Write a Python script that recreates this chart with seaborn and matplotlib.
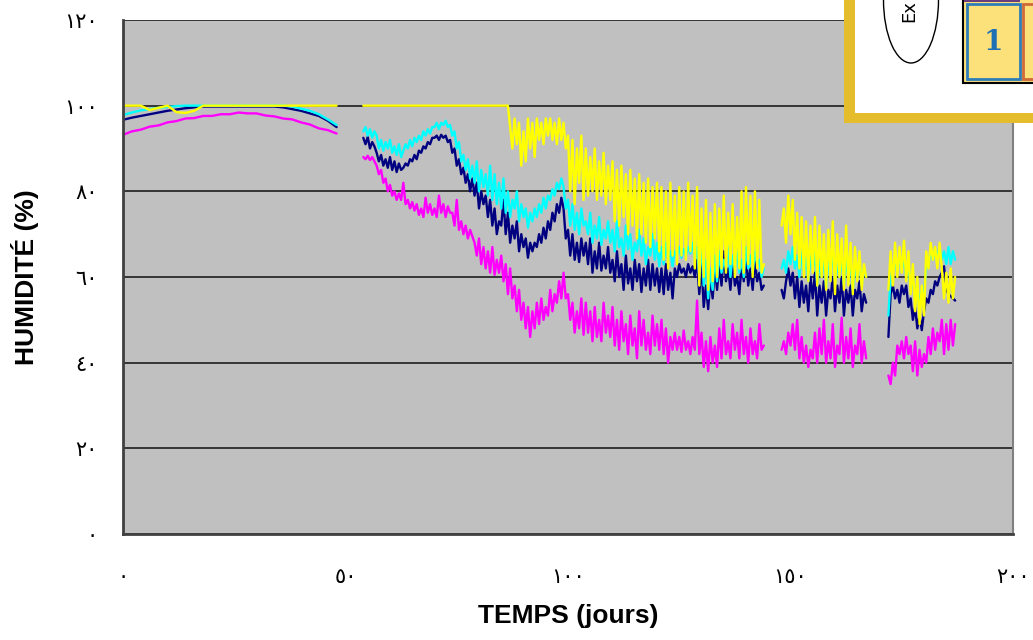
import numpy as np
import pandas as pd
import seaborn as sns
import matplotlib.pyplot as plt
from matplotlib.patches import Rectangle, Ellipse

# time grids of the four recording periods (days)
DAYS_SEG1 = np.arange(0, 48.5, 2)
DAYS_SEG2 = np.arange(54, 144.25, 0.5)
DAYS_SEG3 = np.arange(148, 167.25, 0.5)
DAYS_SEG4 = np.arange(172, 187.25, 0.5)

# humidity readings (%)
YELLOW_SEG1 = [100, 100, 100, 99, 99.5, 100, 98.5, 98.3, 98.8, 100, 100, 100, 100,
               100, 100, 100, 100, 100, 100, 100, 100, 100, 100, 100, 100]
YELLOW_SEG2 = [100, 100, 100, 100, 100, 100, 100, 100, 100, 100,
               100, 100, 100, 100, 100, 100, 100, 100, 100, 100,
               100, 100, 100, 100, 100, 100, 100, 100, 100, 100,
               100, 100, 100, 100, 100, 100, 100, 100, 100, 100,
               100, 100, 100, 100, 100, 100, 100, 100, 100, 100,
               100, 100, 100, 100, 100, 100, 100, 100, 100, 100,
               100, 100, 100, 100, 100, 100,
               95, 90, 97, 91, 96, 86, 94, 87, 97, 90, 96, 88, 97, 92, 96, 91,
               97, 93, 97, 92, 96, 91, 97, 92, 96, 90,
               93, 80, 92, 77, 90, 82, 93, 78, 90, 79,
               88, 80, 90, 78, 87, 79, 89, 77, 86, 78,
               87, 73, 85, 72, 86, 74, 84, 70, 85, 72, 83, 69, 84, 70, 82, 68,
               83, 67, 81, 69, 82, 66,
               81, 64, 80, 62, 82, 65, 79, 63, 81, 65, 80, 64, 82, 66, 79, 62,
               81, 58, 76, 60, 78, 57, 75, 59, 77, 60, 76, 62, 79, 61, 75, 63,
               77, 60, 74, 62, 80, 61, 81, 63, 79, 60, 80, 62, 78, 61, 63]
YELLOW_SEG3 = [72, 76, 68, 79, 70, 78, 64, 75, 62, 74, 60, 73, 59, 72, 61, 74,
               58, 72, 60, 70, 57, 71, 59, 73, 56, 70, 60, 69, 57, 72, 58, 68,
               56, 67, 59, 66, 57, 63, 60]
YELLOW_SEG4 = [57, 66, 58, 68, 60, 67, 61, 68.5, 59, 66, 56, 63, 52, 60, 49, 58,
               51, 66, 62, 68, 64, 67, 62, 68, 62, 55, 61, 54, 62, 55, 60]

CYAN_SEG1 = [97.8, 98.4, 98.9, 99.2, 99.5, 99.7, 99.9, 100, 100, 100, 100, 100, 100,
             100, 100, 100, 100, 100, 100, 99.8, 99.3, 98.8, 98, 96.8, 95.5]
CYAN_SEG2 = [94, 95, 93, 94.5, 92.5, 94,
             93, 90, 92, 89.5, 91.5, 90, 92, 89, 90.5, 88.5, 91, 88,
             89.5, 91, 90, 92, 90.5, 92.5, 91.5, 93, 92, 94, 93, 94.5, 93.5, 95,
             95, 96, 94.5, 96, 95.5, 96.5, 95, 95.5,
             93, 94, 90, 91.5, 87, 88.5, 85, 87.5, 83, 86,
             82, 87, 80, 85, 81, 84, 79, 86, 78, 84, 77, 82,
             76, 83, 75, 80, 74, 78, 76, 80, 73, 77, 74, 76, 71.5, 75,
             73, 76, 74, 77, 75, 78.5, 76, 79, 78, 80.5, 79, 82, 80.5, 83,
             81, 76, 78, 72, 77, 71, 75, 70, 76, 72,
             73, 70, 75, 68, 72, 69, 74, 67.5, 71, 69, 73, 68,
             71, 66, 73, 67, 69, 65, 72, 66.5, 70, 64, 68, 66, 71, 65, 69, 63,
             67, 65, 70, 64, 68, 62.5,
             67, 63, 68, 64, 66, 62.5,
             66, 65, 67, 64.5, 66.5, 65, 67, 65.5, 68, 64,
             67, 60, 68, 58, 64, 55, 62, 57, 65, 59,
             66, 61, 64, 62, 67, 60, 65, 62, 66, 61, 64, 60, 67, 62, 65, 61,
             66, 63, 64, 60, 62]
CYAN_SEG3 = [62, 64, 61, 66, 63, 67, 62, 65, 60, 66, 61, 64.5, 59, 65, 62, 66,
             58, 64, 60, 65, 57.5, 64, 61, 66, 59, 63, 60, 65, 58, 64, 60, 63,
             57, 62, 60, 64, 58, 62, 60]
CYAN_SEG4 = [51, 60, 62, 64, 61, 65, 62, 64, 60, 63, 57, 60, 55, 58, 53, 57,
             56, 62, 63, 66, 64, 66, 65, 67, 64, 66, 63, 67, 63, 66, 64]

NAVY_SEG1 = [96.7, 97.2, 97.6, 98, 98.4, 98.8, 99.1, 99.4, 99.6, 99.8, 99.8, 99.8, 99.8,
             99.8, 99.8, 99.8, 99.8, 99.8, 99.6, 99.2, 98.8, 98.2, 97.6, 96.5, 95]
NAVY_SEG2 = [92.5, 91, 92.7, 90, 91.5, 90.5,
             89, 87, 88.5, 86, 87.5, 85.5, 88, 85, 87, 84.5, 86.5, 85,
             85.5, 86.5, 86, 87.5, 87, 88.5, 87.5, 89.5, 89, 90.5, 90, 91.5, 91, 92.5,
             92.5, 93, 92, 93.2, 92.5, 93, 91.5, 92,
             89, 90, 86, 87.5, 84, 85.5, 82, 84, 80, 83,
             79, 82, 76, 80, 77, 79, 74, 78, 72, 76, 70, 73,
             72, 78, 70, 75, 68, 72, 69, 73, 66, 70, 67, 69, 64.5, 68,
             66, 68, 67, 70, 68, 71.5, 69, 73, 71, 75, 73, 77, 75, 78.5,
             76, 69, 71, 65, 70, 64, 68, 63.5, 69, 65,
             68, 63, 69, 61, 66, 62, 68, 61.5, 65, 62, 67, 61,
             64, 59, 66, 60, 63, 57, 65, 58.5, 62, 57, 64, 59, 63, 56.5, 62, 58,
             64, 57, 63, 58, 62, 56.5,
             62, 56, 63, 57, 61, 55,
             62, 60, 63, 61, 62, 60, 63, 61, 62.5, 60,
             64, 56, 63, 53, 58, 52.5, 60, 55, 62, 57,
             63, 58, 66, 59, 62, 57, 64, 58, 60, 56, 63, 59, 65, 58, 62, 57,
             64, 59, 61, 57, 58]
NAVY_SEG3 = [57, 55, 59, 62, 58, 61, 55, 60, 53, 59, 54, 58, 52, 60, 55, 61,
             51, 58, 54, 59, 51, 57, 55, 60, 52, 58, 54, 60, 51, 57, 54, 58,
             51, 57, 55, 59, 52, 56, 54]
NAVY_SEG4 = [46, 56, 58, 55, 57, 54, 58, 56, 58, 53, 55, 50, 53, 48, 51, 47.6,
             52, 55, 54, 57, 56, 59, 58, 60, 61, 62.5, 57, 56, 55.5, 55, 54.5]

MAGENTA_SEG1 = [93.2, 94, 94.4, 95.1, 95.4, 96.1, 96.4, 97, 97.1, 97.6, 97.6, 98, 98,
                98.4, 98.2, 98.2, 97.7, 97.5, 97, 96.8, 96.1, 95.6, 94.7, 94.3, 93.5]
MAGENTA_SEG2 = [88, 87.5, 88.3, 87.3, 88, 87,
                86, 84, 85, 82, 83, 80, 81.5, 79, 80, 78, 79.5, 78,
                82, 77, 78, 76, 77.5, 75.5, 77, 74.5, 76, 74, 78.5, 75, 77, 74.5,
                76, 74, 79, 75, 77, 74, 76.5, 75,
                75, 72, 78, 71, 73, 70, 72, 69, 71, 69.5,
                68, 65, 69, 63, 67, 62, 66, 61, 67, 60.5, 64, 61,
                65, 59, 63, 56, 62, 55, 58, 52, 57, 50, 54, 48, 53, 46,
                52, 48, 54, 49, 55, 50, 53, 51, 57, 52, 56, 54, 59, 55,
                61, 55, 56, 50, 54, 47, 52, 48, 55, 46.5,
                54, 47, 52, 45, 53, 46, 50, 45, 54, 47, 51, 46,
                53, 44, 50, 43, 52, 45, 49, 42, 51, 44, 48, 41, 52, 44, 50, 43,
                47, 42, 51, 44, 49, 43,
                50, 42, 48, 40, 46, 43,
                47, 43, 46, 42.5, 47.5, 43, 45, 42, 46, 43,
                54.5, 42, 47, 39, 45, 38, 46, 40, 44, 39,
                48, 41, 50, 42, 45, 41, 49, 43, 47, 41, 50, 42, 46, 40, 48, 42,
                45, 41, 49, 43, 44]
MAGENTA_SEG3 = [43, 45, 42, 47, 44, 49, 43, 50, 41, 46, 40, 44, 39, 43, 41, 47,
                40, 48, 42, 50, 40, 45, 41, 49, 39, 44, 42, 50.5, 40, 46, 41, 48,
                39, 44, 42, 49, 40, 45, 41]
MAGENTA_SEG4 = [37, 35, 40, 37, 44, 42, 45, 41, 46, 42, 44, 38, 45, 37, 43, 39,
                42, 40, 46, 42, 48, 43, 47, 45, 50, 42, 49, 43, 50, 44, 49]

SERIES = {
    'navy': [NAVY_SEG1, NAVY_SEG2, NAVY_SEG3, NAVY_SEG4],
    'cyan': [CYAN_SEG1, CYAN_SEG2, CYAN_SEG3, CYAN_SEG4],
    'yellow': [YELLOW_SEG1, YELLOW_SEG2, YELLOW_SEG3, YELLOW_SEG4],
    'magenta': [MAGENTA_SEG1, MAGENTA_SEG2, MAGENTA_SEG3, MAGENTA_SEG4],
}
PALETTE = {'navy': '#000080', 'cyan': '#00FFFF', 'yellow': '#FFFF00', 'magenta': '#FF00FF'}

X_TICKS = [0, 50, 100, 150, 200]
X_TICK_LABELS = ['٠', '٥٠', '١٠٠', '١٥٠', '٢٠٠']
Y_TICKS = [0, 20, 40, 60, 80, 100, 120]
Y_TICK_LABELS = ['٠', '٢٠', '٤٠', '٦٠', '٨٠', '١٠٠', '١٢٠']

# long-form table, one row per reading
seg_days = [DAYS_SEG1, DAYS_SEG2, DAYS_SEG3, DAYS_SEG4]
frames = []
for name, segs in SERIES.items():
    for k, (days, vals) in enumerate(zip(seg_days, segs)):
        frames.append(pd.DataFrame({'day': days, 'value': vals,
                                    'series': name, 'segment': k}))
df = pd.concat(frames, ignore_index=True)

sns.set_style('white')
plt.rcParams['font.family'] = ['Liberation Sans', 'DejaVu Sans']
plt.rcParams['text.color'] = 'black'
plt.rcParams['axes.labelcolor'] = 'black'
plt.rcParams['xtick.color'] = 'black'
plt.rcParams['ytick.color'] = 'black'

fig = plt.figure(figsize=(10.33, 6.4), dpi=100)
ax = fig.add_axes([123 / 1033, 1 - 534 / 640, 890 / 1033, 514 / 640])
ax.set_facecolor('#C0C0C0')

sns.lineplot(data=df, x='day', y='value', hue='series', units='segment',
             estimator=None, sort=False, hue_order=list(SERIES),
             palette=PALETTE, linewidth=1.7, legend=False, ax=ax)

ax.set_xlim(0, 200)
ax.set_ylim(0, 120)
ax.set_xticks(X_TICKS)
ax.set_xticklabels(X_TICK_LABELS, fontsize=15, family=['DejaVu Sans'])
ax.set_yticks(Y_TICKS)
ax.set_yticklabels(Y_TICK_LABELS, fontsize=15, family=['DejaVu Sans'])
ax.yaxis.grid(True, color='#2a2a2a', linewidth=1.3)
ax.xaxis.grid(False)
ax.set_axisbelow(True)
ax.tick_params(axis='y', direction='out', length=6, width=1.3, color='#404040', pad=12)
ax.tick_params(axis='x', direction='out', length=8, width=1.3, color='#404040', pad=16)
for side in ['left', 'bottom']:
    ax.spines[side].set_color('#404040')
    ax.spines[side].set_linewidth(2)
ax.spines['right'].set_color('#808080')
ax.spines['right'].set_linewidth(1.5)
ax.spines['top'].set_visible(False)

ax.set_xlabel('TEMPS (jours)', fontsize=19, fontweight='bold', labelpad=12)
ax.set_ylabel('HUMIDITÉ (%)', fontsize=19, fontweight='bold', labelpad=18)

# cropped picture pasted in the top right corner
ov = fig.add_axes([0, 0, 1, 1], facecolor='none')
ov.set_xlim(0, 1033)
ov.set_ylim(640, 0)
ov.axis('off')
ov.set_zorder(10)
ov.add_patch(Rectangle((844, -5), 200, 128, facecolor='#E5BC2B', edgecolor='none'))
ov.add_patch(Rectangle((855, -5), 190, 118, facecolor='white', edgecolor='none'))
ov.add_patch(Ellipse((911, 0), 55, 126, facecolor='white', edgecolor='black', linewidth=1))
ov.text(909, 22, 'Ex', rotation=90, ha='center', va='bottom', fontsize=13,
        family=['DejaVu Sans'], color='black')
ov.add_patch(Rectangle((963, -5), 90, 88, facecolor='#FBE07C', edgecolor='black', linewidth=1.5))
ov.add_patch(Rectangle((967, 4), 53, 75, facecolor='#FCE07A', edgecolor='#2E7DB8', linewidth=2))
ov.add_patch(Rectangle((1023, 4), 30, 75, facecolor='#FCE07A', edgecolor='#CF6A3A', linewidth=2))
ov.add_patch(Rectangle((964, -1), 56, 3, facecolor='#6A3D7C', edgecolor='none'))
ov.text(993, 42, '1', ha='center', va='center', fontsize=20, fontweight='bold',
        family=['DejaVu Serif'], color='#1F6FB5')

fig.savefig('out.png', dpi=100)
